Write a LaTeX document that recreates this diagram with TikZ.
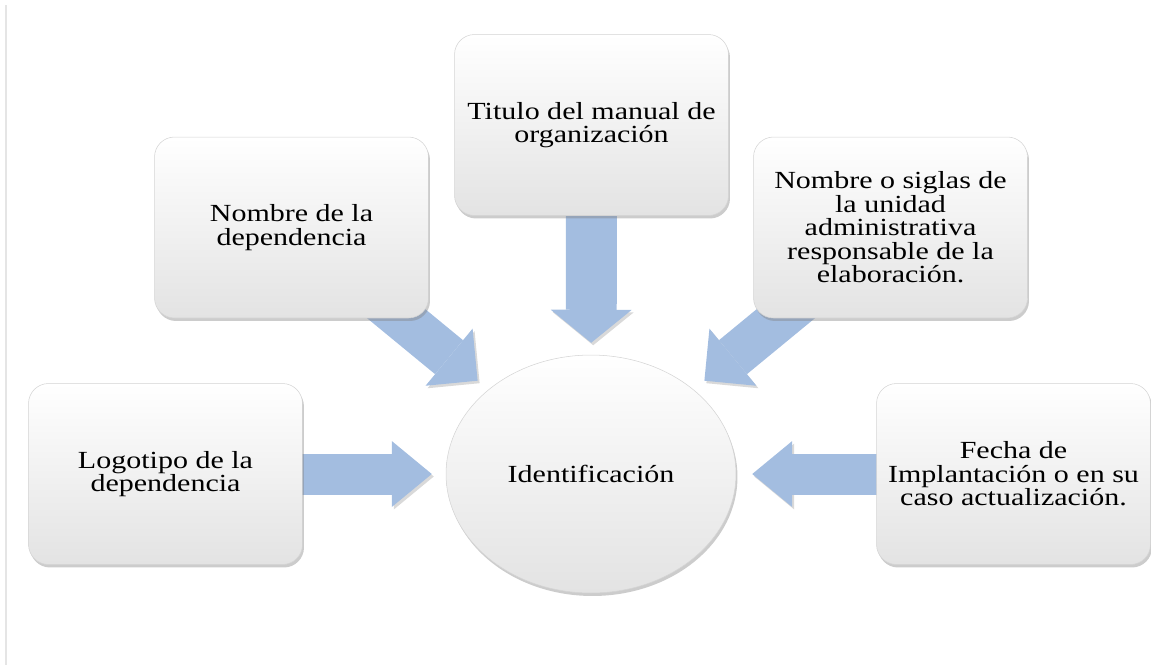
\documentclass[tikz,border=0pt]{standalone}
\usepackage{fontspec}
\setmainfont{Liberation Serif}[FakeStretch=1.22]
\usepackage{tikz}
\usetikzlibrary{arrows.meta,shadows,backgrounds,shapes.geometric}
\definecolor{flechaazul}{RGB}{163,189,224}
\definecolor{bordegris}{RGB}{212,212,212}

\begin{document}
\begin{tikzpicture}[x=0.02cm,y=-0.02cm,
  every node/.style={font=\fontsize{14}{13.4}\selectfont},
  sombra/.style={drop shadow={shadow xshift=0.03cm,shadow yshift=-0.06cm,opacity=0.4}},
  caja/.style={rectangle,rounded corners=0.4cm,draw=bordegris,line width=0.3pt,top color=white,middle color=white,bottom color=black!11,minimum width=5.48cm,minimum height=3.62cm,inner sep=0pt,align=center,sombra},
  centro/.style={ellipse,draw=bordegris,line width=0.3pt,top color=white,middle color=white,bottom color=black!11,minimum width=5.8cm,minimum height=4.76cm,inner sep=0pt,sombra},
  flecha/.style={draw=flechaazul,preaction={draw=black!60,opacity=0.25,transform canvas={shift={(0.04cm,-0.05cm)}}}}]
\useasboundingbox (0,0) rectangle (1151,670);
\draw[black!10,line width=1.2pt] (6,5) -- (6,665);

\node[centro] (ident) at (591,474) {Identificación};
\node[caja] (logo) at (165.5,474) {Logotipo de la\\dependencia};
\node[caja] (dep) at (291.5,227.5) {Nombre de la\\dependencia};
\node[caja] (titulo) at (591.5,125) {Titulo del manual de\\organización};
\node[caja] (siglas) at (890.5,227.5) {Nombre o siglas de\\la unidad\\administrativa\\responsable de la\\elaboración.};
\node[caja] (fecha) at (1013.5,474) {Fecha de\\Implantación o en su\\caso actualización.};

\begin{scope}[on background layer]
\foreach \desde/\ancho/\punta/\largo/\corte in %
{logo/0.82cm/1.32cm/0.80cm/0.28cm,dep/0.88cm/1.48cm/0.74cm/0.28cm,titulo/1.02cm/1.62cm/0.66cm/0.24cm,siglas/0.88cm/1.48cm/0.74cm/0.28cm,fecha/0.82cm/1.32cm/0.80cm/0.32cm} {
   \draw[flecha,line width=\ancho,shorten >=\corte,-{Triangle[width=\punta,length=\largo,line width=0pt]}] (\desde.center) -- (ident);
}
\end{scope}
\end{tikzpicture}
\end{document}
